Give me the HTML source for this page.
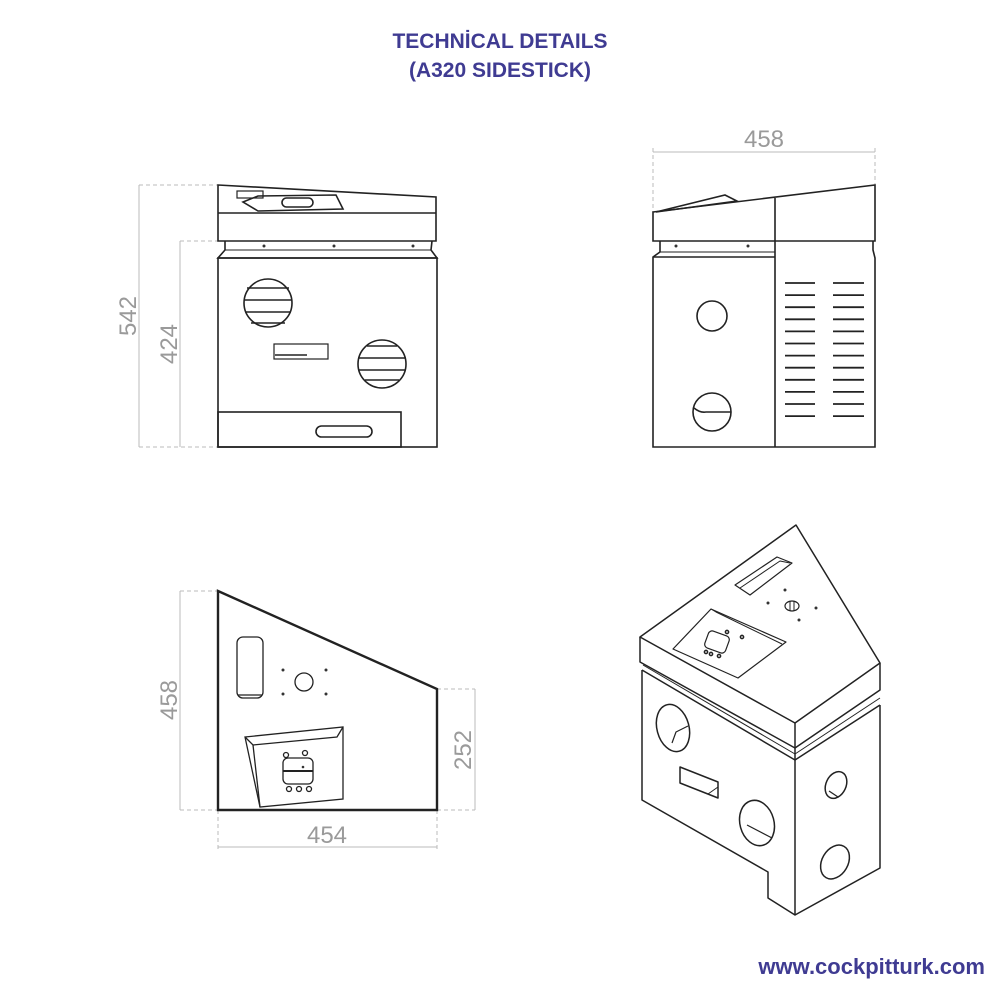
<!DOCTYPE html>
<html><head><meta charset="utf-8"><style>
html,body{margin:0;padding:0;background:#fff;}
svg{display:block;}
.t{font-family:"Liberation Sans",sans-serif;font-weight:bold;fill:#3f3b92;}
.d{font-family:"Liberation Sans",sans-serif;fill:#9a9a9a;font-size:24px;}
</style></head><body>
<svg width="1000" height="1000" viewBox="0 0 1000 1000" xmlns="http://www.w3.org/2000/svg">
<text class="t" x="500" y="48" text-anchor="middle" font-size="21">TECHNİCAL DETAILS</text>
<text class="t" x="500" y="77" text-anchor="middle" font-size="21">(A320 SIDESTICK)</text>
<text class="t" x="985" y="974" text-anchor="end" font-size="22">www.cockpitturk.com</text>

<!-- FRONT VIEW -->
<g fill="none" stroke="#bbb" stroke-width="1">
<line x1="139" y1="185" x2="139" y2="447"/><line x1="180" y1="241" x2="180" y2="447"/>
<line x1="139" y1="185" x2="218" y2="185" stroke-dasharray="4,3"/>
<line x1="139" y1="447" x2="218" y2="447" stroke-dasharray="4,3"/>
<line x1="180" y1="241" x2="218" y2="241" stroke-dasharray="4,3"/>
</g>
<text class="d" transform="translate(136,316) rotate(-90)" text-anchor="middle">542</text>
<text class="d" transform="translate(177,344) rotate(-90)" text-anchor="middle">424</text>
<g fill="none" stroke="#222" stroke-width="1.6">
<polygon points="218,185 436,197 436,241 218,241"/>
<line x1="218" y1="213" x2="436" y2="213"/>
<polyline points="225,241 225,250 218,258 437,258 431,250 432,241"/>
<line x1="225" y1="250" x2="431" y2="250" stroke-width="1"/>
<rect x="218" y="258" width="219" height="189"/>
<rect x="218" y="412" width="183" height="35"/>
<rect x="316" y="426" width="56" height="11" rx="5.5"/>
<circle cx="268" cy="303" r="24"/><circle cx="382" cy="364" r="24"/>
<rect x="274" y="344" width="54" height="15" stroke-width="1.2"/>
<polygon points="243,202 258,196 336,195 343,209 258,211"/>
<rect x="237" y="191" width="26" height="7" stroke-width="1.2"/>
<rect x="282" y="198" width="31" height="9" rx="4.5"/>
</g>
<g stroke="#222" stroke-width="1.6">
<line x1="247" y1="288" x2="289" y2="288"/><line x1="244" y1="300" x2="292" y2="300"/><line x1="245" y1="312" x2="291" y2="312"/><line x1="251" y1="323" x2="285" y2="323"/>
<line x1="367" y1="346" x2="397" y2="346"/><line x1="358" y1="358" x2="406" y2="358"/><line x1="358" y1="370" x2="406" y2="370"/><line x1="365" y1="380" x2="399" y2="380"/>
<line x1="275" y1="355" x2="307" y2="355"/>
</g>
<g fill="#333"><circle cx="264" cy="246" r="1.5"/><circle cx="334" cy="246" r="1.5"/><circle cx="413" cy="246" r="1.5"/></g>

<!-- SIDE VIEW -->
<g fill="none" stroke="#bbb" stroke-width="1">
<line x1="653" y1="152" x2="875" y2="152"/>
<line x1="653" y1="148" x2="653" y2="212" stroke-dasharray="4,3"/>
<line x1="875" y1="148" x2="875" y2="185" stroke-dasharray="4,3"/>
</g>
<text class="d" x="764" y="147" text-anchor="middle">458</text>
<g fill="none" stroke="#222" stroke-width="1.6">
<polygon points="653,212 875,185 875,241 653,241"/>
<line x1="775" y1="198" x2="775" y2="447"/>
<polygon points="656,212 725,195 737,201"/>
<polyline points="660,241 660,252 653,257 653,447 875,447 875,258 873,250 873,241"/>
<line x1="653" y1="257" x2="775" y2="257"/>
<line x1="660" y1="252" x2="775" y2="252" stroke-width="1"/>
<circle cx="712" cy="316" r="15"/><circle cx="712" cy="412" r="19"/>
<path d="M694,408 Q700,413 706,412 L731,412"/>
</g>
<g stroke="#222" stroke-width="1.8">
<g id="sl"><line x1="785" y1="283" x2="815" y2="283"/><line x1="833" y1="283" x2="864" y2="283"/></g>
<use href="#sl" y="12.1"/><use href="#sl" y="24.2"/><use href="#sl" y="36.3"/><use href="#sl" y="48.4"/><use href="#sl" y="60.5"/><use href="#sl" y="72.6"/><use href="#sl" y="84.7"/><use href="#sl" y="96.8"/><use href="#sl" y="108.9"/><use href="#sl" y="121"/><use href="#sl" y="133.1"/>
</g>
<g fill="#333"><circle cx="676" cy="246" r="1.5"/><circle cx="748" cy="246" r="1.5"/></g>

<!-- TOP VIEW -->
<g fill="none" stroke="#bbb" stroke-width="1">
<line x1="180" y1="591" x2="180" y2="810"/>
<line x1="180" y1="591" x2="218" y2="591" stroke-dasharray="4,3"/>
<line x1="180" y1="810" x2="218" y2="810" stroke-dasharray="4,3"/>
<line x1="475" y1="689" x2="475" y2="810"/>
<line x1="437" y1="689" x2="475" y2="689" stroke-dasharray="4,3"/>
<line x1="437" y1="810" x2="475" y2="810" stroke-dasharray="4,3"/>
<line x1="218" y1="847" x2="437" y2="847"/>
<line x1="218" y1="810" x2="218" y2="850" stroke-dasharray="4,3"/>
<line x1="437" y1="810" x2="437" y2="850" stroke-dasharray="4,3"/>
</g>
<text class="d" transform="translate(177,700) rotate(-90)" text-anchor="middle">458</text>
<text class="d" transform="translate(471,750) rotate(-90)" text-anchor="middle">252</text>
<text class="d" x="327" y="843" text-anchor="middle">454</text>
<g fill="none" stroke="#222" stroke-width="2.4">
<polygon points="218,591 437,689 437,810 218,810"/>
</g>
<g fill="none" stroke="#222" stroke-width="1.3">
<rect x="237" y="637" width="26" height="61" rx="6"/>
<line x1="238" y1="695" x2="262" y2="695"/>
<circle cx="304" cy="682" r="9"/>
<polygon points="245,737 343,727 343,799 260,807"/>
<polyline points="245,737 253,745 337,737 343,727"/>
<line x1="253" y1="745" x2="260" y2="807"/>
<rect x="283" y="758" width="30" height="26" rx="5"/>
<line x1="283" y1="771" x2="313" y2="771" stroke-width="2"/>
<circle cx="286" cy="755" r="2.5"/><circle cx="305" cy="753" r="2.5"/>
<circle cx="289" cy="789" r="2.5"/><circle cx="299" cy="789" r="2.5"/><circle cx="309" cy="789" r="2.5"/>
</g>
<g fill="#333"><circle cx="283" cy="670" r="1.5"/><circle cx="326" cy="670" r="1.5"/><circle cx="283" cy="694" r="1.5"/><circle cx="326" cy="694" r="1.5"/><circle cx="303" cy="767" r="1.3"/></g>

<!-- ISO VIEW -->
<g fill="none" stroke="#222" stroke-width="1.5" stroke-linejoin="round">
<polygon points="796,525 880,663 795,723 640,637"/>
<polyline points="640,637 640,662 795,748 880,690 880,663"/>
<line x1="795" y1="723" x2="795" y2="748"/>
<polyline points="642,670 795,760 880,705"/>
<polyline points="642,670 642,800 768,872 768,898 795,915 880,868 880,705"/>
<line x1="795" y1="748" x2="795" y2="915"/>
<line x1="643" y1="665" x2="795" y2="754" stroke-width="1"/>
<line x1="795" y1="754" x2="880" y2="698" stroke-width="1"/>
<polygon points="735,585 777,557 792,563 750,595" stroke-width="1.2"/>
<polyline points="740,588 780,561 790,563" stroke-width="1"/>
<ellipse cx="792" cy="606" rx="7" ry="5" stroke-width="1.2"/>
<line x1="790" y1="601" x2="790" y2="611" stroke-width="1"/><line x1="794" y1="601" x2="794" y2="611" stroke-width="1"/>
<polygon points="673,649 711,609 786,642 738,678" stroke-width="1.2"/>
<polyline points="711,609 716,612 782,644" stroke-width="1"/>
<rect x="706" y="633" width="22" height="18" rx="4" transform="rotate(20 717 642)" stroke-width="1.2"/>
<circle cx="706" cy="652" r="1.6"/><circle cx="711" cy="654" r="1.6"/><circle cx="719" cy="656" r="1.6"/><circle cx="727" cy="632" r="1.6"/><circle cx="742" cy="637" r="1.6"/>
<ellipse cx="673" cy="728" rx="16" ry="24" transform="rotate(-15 673 728)"/>
<polyline points="672,743 676,732 688,726" stroke-width="1.2"/>
<polygon points="680,767 718,782 718,798 680,783"/>
<line x1="708" y1="794" x2="718" y2="787" stroke-width="1"/>
<ellipse cx="757" cy="823" rx="17" ry="23" transform="rotate(-15 757 823)"/>
<line x1="747" y1="825" x2="772" y2="838" stroke-width="1.2"/>
<ellipse cx="836" cy="785" rx="10" ry="14" transform="rotate(25 836 785)"/>
<line x1="829" y1="791" x2="838" y2="797" stroke-width="1.2"/>
<ellipse cx="835" cy="862" rx="13" ry="18" transform="rotate(30 835 862)"/>
</g>
<g fill="#333"><circle cx="785" cy="590" r="1.5"/><circle cx="768" cy="603" r="1.5"/><circle cx="816" cy="608" r="1.5"/><circle cx="799" cy="620" r="1.5"/></g>
</svg>
</body></html>
